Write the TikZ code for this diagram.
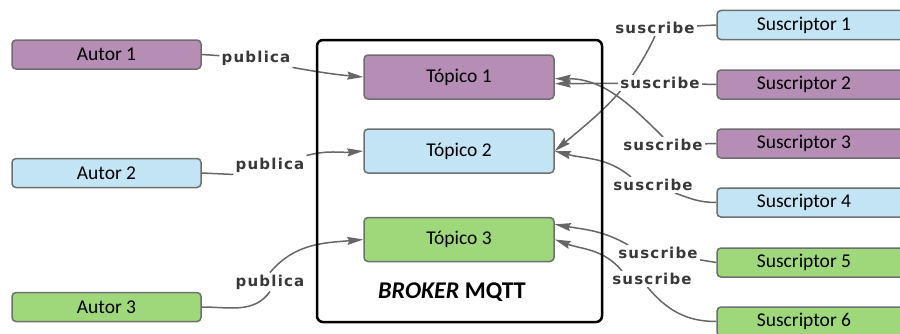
\documentclass[tikz,border=0pt]{standalone}
\usepackage{fontspec}
\setmainfont{Carlito}
\newfontfamily\lblfont{DejaVu Sans}[LetterSpace=8]
\usetikzlibrary{arrows.meta,backgrounds}
\definecolor{autpurple}{HTML}{B58DB5}
\definecolor{autblue}{HTML}{C2E4F4}
\definecolor{autgreen}{HTML}{9FD77B}
\definecolor{boxgray}{HTML}{6E6E6E}
\definecolor{linkgray}{HTML}{666666}
\definecolor{lblgray}{HTML}{383838}

\begin{document}
\begin{tikzpicture}[x=1pt,y=1pt,
        box/.style={draw=boxgray, line width=1.5pt, rounded corners=4pt, minimum width=189pt, minimum height=29pt, inner sep=0pt, font=\fontsize{19.5}{22}\selectfont},
        topbox/.style={box, minimum width=190pt, minimum height=44pt},
        susbox/.style={box, minimum width=190pt},
        boxtext/.style={inner sep=0pt, font=\fontsize{19.5}{22}\selectfont},
        lbl/.style={fill=white, inner sep=2pt, text=lblgray, font=\lblfont\bfseries\fontsize{15}{17}\selectfont},
        link/.style={draw=linkgray, line width=1.5pt},
        arr/.style={link, -{Stealth[length=16pt,width=8pt,inset=2pt]}}]
                \useasboundingbox (0,0) rectangle (900,333);
                \node[draw=black, line width=2.5pt, rounded corners=6pt, minimum width=285pt, minimum height=282pt] (broker) at (459.5,152) {};
                \node[font=\fontsize{24}{28}\selectfont\bfseries] (brk) at (452,41) {\textit{BROKER} MQTT};
                \node[box, fill=autpurple] (autor1) at (106.5,278.5) {Autor 1};
                \node[box, fill=autblue] (autor2) at (106.5,160) {Autor 2};
                \node[box, fill=autgreen] (autor3) at (106.5,26) {Autor 3};
                \node[topbox, fill=autpurple] (top1) at (459,256) {Tópico 1};
                \node[topbox, fill=autblue] (top2) at (459,182) {Tópico 2};
                \node[topbox, fill=autgreen] (top3) at (459,93.5) {Tópico 3};
                \node[susbox, fill=autblue] (susc1) at (812,308) {};
                \node[boxtext] (susc1t) at (804,308) {Suscriptor 1};
                \node[susbox, fill=autpurple] (susc2) at (812,248.5) {};
                \node[boxtext] (susc2t) at (804,248.5) {Suscriptor 2};
                \node[susbox, fill=autpurple] (susc3) at (812,189.5) {};
                \node[boxtext] (susc3t) at (804,189.5) {Suscriptor 3};
                \node[susbox, fill=autblue] (susc4) at (812,130.5) {};
                \node[boxtext] (susc4t) at (804,130.5) {Suscriptor 4};
                \node[susbox, fill=autgreen] (susc5) at (812,70.5) {};
                \node[boxtext] (susc5t) at (804,70.5) {Suscriptor 5};
                \node[susbox, fill=autgreen] (susc6) at (812,11.5) {};
                \node[boxtext] (susc6t) at (804,11.5) {Suscriptor 6};
                \node[lbl] (pub1) at (256,275) {publica};
                \node[lbl] (pub2) at (270,168) {publica};
                \node[lbl] (pub3) at (270,51) {publica};
                \node[lbl] (sub1) at (655,305) {suscribe};
                \node[lbl] (sub2) at (660,250) {suscribe};
                \node[lbl] (sub3) at (663,188) {suscribe};
                \node[lbl] (sub4) at (653,148) {suscribe};
                \node[lbl] (sub5) at (658,80) {suscribe};
                \node[lbl] (sub6) at (652,54) {suscribe};
                \begin{scope}[on background layer]
                \draw[link] (autor1.east) -- (pub1);
                \draw[arr] (pub1.south east) to[out=-10,in=175] (top1.west);
                \draw[link] (autor2.east) -- (pub2.south west);
                \draw[arr] (pub2.north east) to[out=15,in=185] (top2.west);
                \draw[link] (autor3.east) to[out=0,in=-125] (pub3.south);
                \draw[arr] (pub3.north) to[out=50,in=185] (top3.west);
                \draw[link] (susc1.west) -- (sub1);
                \draw[arr] (sub1.south) to[out=-115,in=40] (top2.east);
                \draw[link] (susc2.west) -- (sub2);
                \draw[arr] (sub2) -- (top1.-4);
                \draw[link] (susc3.west) -- (sub3);
                \draw[arr] (sub3.north) to[out=135,in=0] (top1.-1);
                \draw[link] (susc4.west) to[out=180,in=-20] (sub4.-20);
                \draw[arr] (sub4.160) to[out=140,in=-15] (top2.east);
                \draw[link] (susc5.west) -- (sub5);
                \draw[arr] (sub5.165) to[out=150,in=-10] (top3.9);
                \draw[link] (susc6.west) to[out=180,in=-50] (sub6.-120);
                \draw[arr] (sub6.165) to[out=130,in=-20] (top3.east);
                \end{scope}
            \end{tikzpicture}
\end{document}
